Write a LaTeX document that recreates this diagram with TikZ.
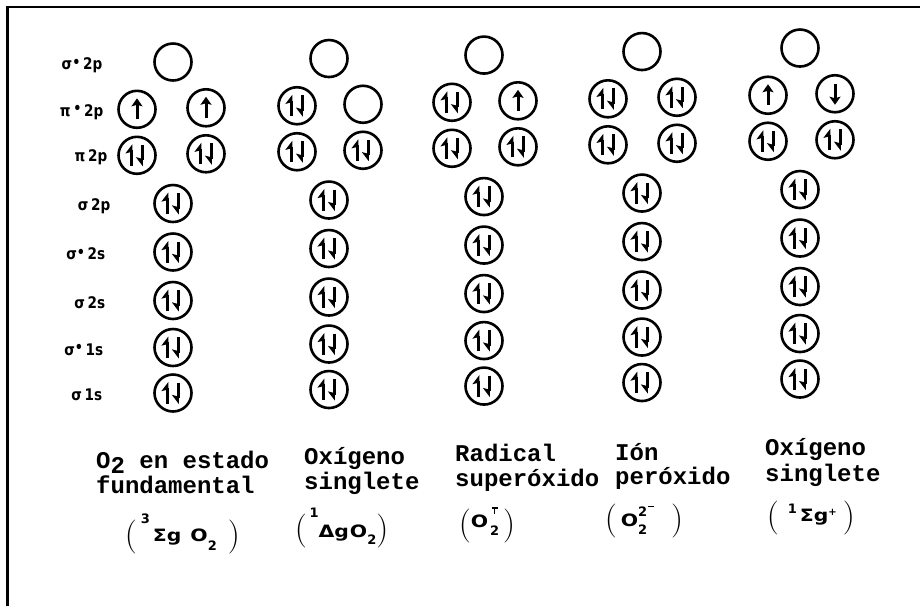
\documentclass[tikz,border=0pt]{standalone}
\usepackage{fontspec}
\usepackage{graphicx}
\usetikzlibrary{arrows.meta}
\newfontfamily\twfont{Liberation Mono}
\newfontfamily\dvfont{DejaVu Sans}
\newfontfamily\dvwide[FakeStretch=1.2]{DejaVu Sans}
\newfontfamily\dvnarrow[FakeStretch=0.85]{DejaVu Sans}
\newcommand\txtfont{\twfont\bfseries\fontsize{24}{25}\selectfont}
\newcommand\lblfont{\dvnarrow\bfseries\fontsize{16}{16}\selectfont}
\newcommand\pfont{\rmfamily\mdseries\fontsize{34}{34}\selectfont}
\newcommand\ffont{\dvwide\bfseries\fontsize{17}{17}\selectfont}
\newcommand\sfont{\dvfont\bfseries\fontsize{13}{13}\selectfont}
\newcommand\parL{{\pfont(}}
\newcommand\parR{{\pfont)}}
\newcommand\fMain[2]{\raisebox{#1pt}{\ffont #2}}
\newcommand\fScr[2]{\raisebox{#1pt}{\sfont #2}}
\newcommand\lbldot{\raisebox{2.5pt}{\fontsize{15}{15}\selectfont •}}
\tikzset{
  orb/.style={circle, draw, line width=2.6pt, minimum size=37pt, inner sep=0pt},
  spinline/.style={line width=3pt},
  harpup/.style={spinline, -{Stealth[harpoon, length=8pt, width=12pt, inset=1.5pt]}},
  harpdn/.style={spinline, -{Stealth[harpoon, swap, length=8pt, width=12pt, inset=1.5pt]}},
  fullarr/.style={spinline, -{Stealth[length=8pt, width=11pt, inset=1.5pt]}},
  pics/pair/.style={code={
    \node[orb] (-o) at (0,0) {};
    \draw[harpup] (-5.5,10.5) -- (-5.5,-11);
    \draw[harpdn] (5,-10.5) -- (5,11);
  }},
  pics/up/.style={code={
    \node[orb] (-o) at (0,0) {};
    \draw[fullarr] (0,10) -- (0,-11);
  }},
  pics/down/.style={code={
    \node[orb] (-o) at (0,0) {};
    \draw[fullarr] (0,-10) -- (0,11);
  }},
  pics/vacant/.style={code={\node[orb] (-o) at (0,0) {};}},
  lbl/.style={anchor=base east, font=\lblfont, inner sep=0pt},
  txt/.style={anchor=base west, font=\txtfont, inner sep=0pt},
  frm/.style={anchor=base west, inner sep=0pt},
}
\begin{document}
\begin{tikzpicture}[x=1pt, y=-1pt]
\useasboundingbox (0,0) rectangle (920,606);
% frame
\coordinate (fa) at (7.5,606);
\coordinate (fb) at (7.5,7);
\coordinate (fc) at (920,7);
\draw[line width=2.4pt] (fa) -- (fb) -- (fc);

\begin{scope}[yshift=-3.86pt, cm={1,0.0223,0,1,(0,0)}]
% level labels
\node[lbl] (l1) at (102.5,68)  {σ\lbldot\,2p};
\node[lbl] (l2) at (103.5,114.5) {π\,\lbldot\,2p};
\node[lbl] (l3) at (107.5,160.5) {π\,2p};
\node[lbl] (l4) at (110.5,209.5) {σ\,2p};
\node[lbl] (l5) at (105.5,258) {σ\lbldot\,2s};
\node[lbl] (l6) at (105.5,306.5) {σ\,2s};
\node[lbl] (l7) at (103.5,353.5) {σ\lbldot\,1s};
\node[lbl] (l8) at (102.5,399) {σ\,1s};

% sigma* 2p (empty)
\foreach \c/\x in {1/173,2/329,3/484,4/642,5/800}
  \pic (c\c r1) at (\x,62) {vacant};
% lower sigma levels (paired)
\foreach \c/\x in {1/173,2/329,3/484,4/642,5/800}
  \foreach \r/\y in {4/203.5,5/252,6/300.5,7/347.5,8/393}
    \pic (c\c r\r) at (\x,\y) {pair};
% pi 2p (paired, all columns)
\foreach \c/\xl/\xr in {1/137/206,2/297/363,3/452/518,4/608/677,5/768/835}{
  \pic (c\c r3a) at (\xl,154.5) {pair};
  \pic (c\c r3b) at (\xr,154.5) {pair};
}
% pi* 2p
\pic (c1r2a) at (137,108.5) {up};
\pic (c1r2b) at (206,108.5) {up};
\pic (c2r2a) at (297,108.5) {pair};
\pic (c2r2b) at (363,108.5) {vacant};
\pic (c3r2a) at (452,108.5) {pair};
\pic (c3r2b) at (518,108.5) {up};
\pic (c4r2a) at (608,108.5) {pair};
\pic (c4r2b) at (677,108.5) {pair};
\pic (c5r2a) at (768,108.5) {up};
\pic (c5r2b) at (835,108.5) {down};

% captions
\node[txt] (t1a) at (96,467) {O\raisebox{-5pt}[\height][0pt]{2} en estado};
\node[txt] (t1b) at (96,492) {fundamental};
\node[txt] (t2a) at (304,467.5) {Oxígeno};
\node[txt] (t2b) at (304,492) {singlete};
\node[txt] (t3a) at (455,468) {Radical};
\node[txt] (t3b) at (455,493) {superóxido};
\node[txt] (t4a) at (615,470) {Ión};
\node[txt] (t4b) at (615,494) {peróxido};
\node[txt] (t5a) at (765,469) {Oxígeno};
\node[txt] (t5b) at (765,495) {singlete};

% formulas
\node[frm] (f1) at (124.6,544) {\parL\hspace{4pt}\fScr{22}{3}\hspace{3pt}\fMain{4}{Σg}\hspace{9pt}\fMain{4}{O}\fScr{-5.5}{2}\hspace{11pt}\parR};
\node[frm] (f2) at (294.6,542) {\parL\hspace{2.7pt}\fScr{21.5}{1}\fMain{2}{Δg}\hspace{1pt}\fMain{2}{O}\fScr{-5.5}{2}\parR};
\node[frm] (f3) at (458.6,541) {\parL\fMain{7}{O}\hspace{2pt}\makebox[0pt][l]{\fScr{-0.5}{2}}\makebox[9pt][c]{\raisebox{26pt}{\rule{6pt}{1.5pt}}}\kern-9pt\makebox[9pt][c]{\raisebox{21pt}{\rule{1.6pt}{5pt}}}\hspace{4pt}\parR};
\node[frm] (f4) at (604.6,539) {\parL\hspace{4pt}\fMain{2.5}{O}\makebox[0pt][l]{\fScr{-5.5}{2}}\fScr{12.5}{2}\hspace{1pt}\raisebox{22pt}{\rule{6pt}{1.8pt}}\hspace{17pt}\parR};
\node[frm] (f5) at (766.6,540) {\parL\hspace{9pt}\fScr{13.5}{1}\hspace{3pt}\fMain{5}{Σg}\fScr{11}{\fontsize{10}{10}\selectfont +}\hspace{6pt}\parR};
\end{scope}
\end{tikzpicture}
\end{document}
